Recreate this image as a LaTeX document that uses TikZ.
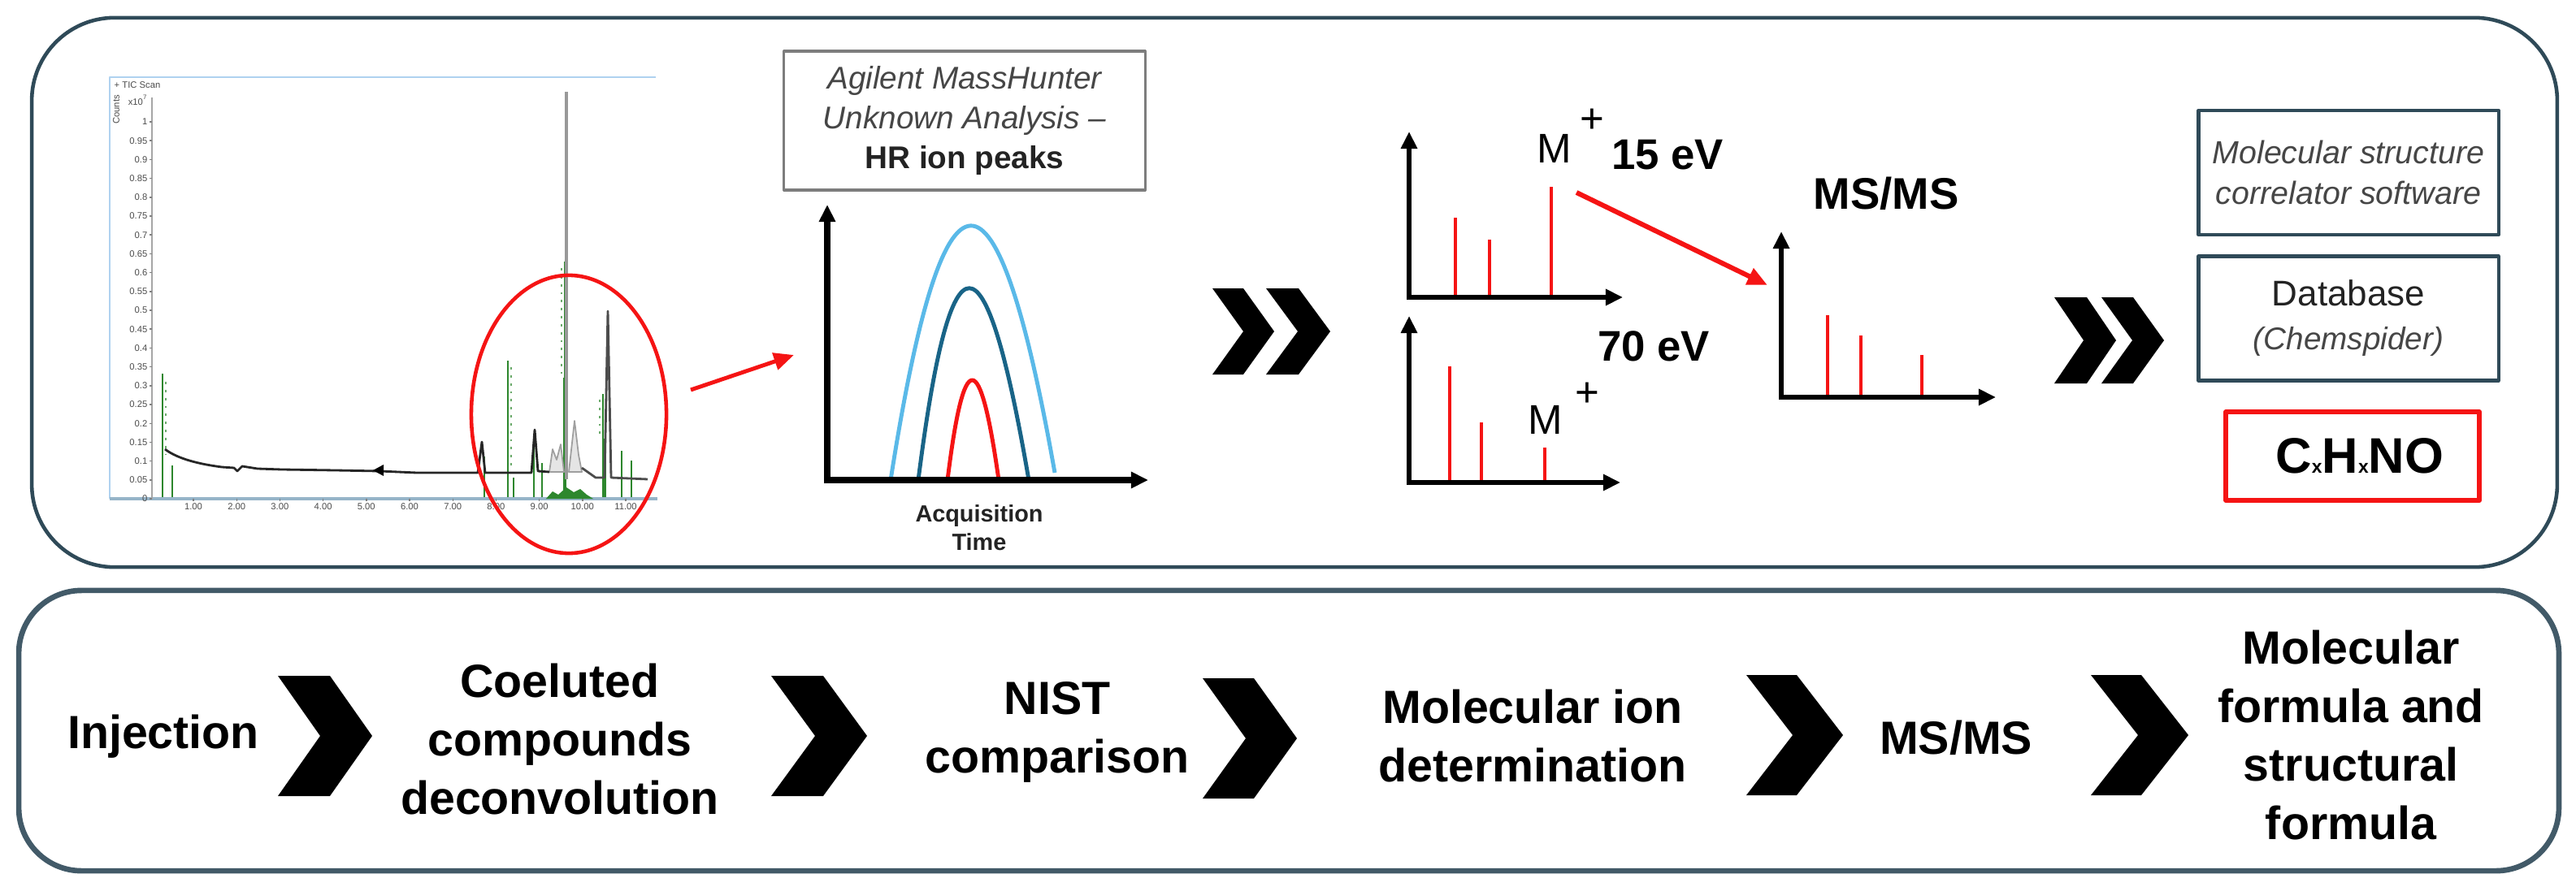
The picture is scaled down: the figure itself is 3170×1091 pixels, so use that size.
\documentclass[tikz,border=0pt]{standalone}
\usepackage{fontspec}
\setmainfont{Liberation Sans}
\usetikzlibrary{arrows.meta,shapes.geometric}
\definecolor{slate}{RGB}{47,74,88}
\definecolor{slatelt}{RGB}{66,90,104}
\definecolor{boxgray}{RGB}{125,125,125}
\definecolor{peaklight}{RGB}{90,185,232}
\definecolor{peakdark}{RGB}{25,100,135}
\definecolor{redc}{RGB}{245,20,20}
\definecolor{chromgreen}{RGB}{45,135,45}
\definecolor{framebl}{RGB}{175,210,240}
\definecolor{axisbl}{RGB}{150,180,200}
\definecolor{darktext}{RGB}{35,35,35}
\definecolor{softtext}{RGB}{70,70,70}
\newcommand\mychev[5]{\fill[black] (#1,#2-#5) -- (#1+#3,#2-#5) -- (#1+#3+#4,#2) -- (#1+#3,#2+#5) -- (#1,#2+#5) -- (#1+#4,#2) -- cycle;}
\begin{document}
\begin{tikzpicture}[x=0.01cm,y=-0.01cm,line join=round,
  bigbox/.style={draw=slate,line width=1.3pt,inner sep=0pt},
  steptext/.style={font=\fontsize{16.3}{20.5}\selectfont\bfseries,align=center,inner sep=0pt,text=black},
  axisarrow/.style={{Triangle[width=5.5pt,length=6pt]}-{Triangle[width=5.5pt,length=6pt]},line width=1.7pt,line join=miter},
  bar/.style={draw=redc,line width=1.4pt},
  redarrow/.style={draw=redc,-{Triangle[width=6pt,length=7pt]},line width=1.7pt},
  rbox/.style={draw=slate,line width=1.2pt,inner sep=0pt,minimum width=3.69cm,minimum height=1.53cm,align=center},
  lbl/.style={inner sep=0pt},
  ticklbl/.style={font=\fontsize{3.2}{4}\selectfont,text=gray!60!black,inner sep=0pt},
  cgreen/.style={draw=chromgreen,line width=0.5pt}]
\useasboundingbox (0,0) rectangle (3170,1091);
\fill[white] (0,0) rectangle (3170,1091);

% ---------- frames ----------
\node[bigbox,rounded corners=29pt,minimum width=31.06cm,minimum height=6.76cm] (topbox) at (1593,360) {};
\node[bigbox,draw=slatelt,line width=1.9pt,rounded corners=22pt,minimum width=31.24cm,minimum height=3.45cm] (botbox) at (1586,899.5) {};

% ---------- chromatogram ----------
\draw[framebl,line width=0.8pt] (807,95) -- (135,95) -- (135,614);
\draw[axisbl,line width=1.1pt] (135,614) -- (809,614);
\draw[gray!70,line width=0.6pt] (187,120) -- (187,614);
\node[ticklbl,anchor=west] (ctitle) at (140,105) {+ TIC Scan};
\node[ticklbl,rotate=90] (ylab) at (143,135) {Counts};
\node[ticklbl] (yexp) at (170,123) {x10\textsuperscript{7}};
\foreach \v [count=\i from 0] in {1,0.95,0.9,0.85,0.8,0.75,0.7,0.65,0.6,0.55,0.5,0.45,0.4,0.35,0.3,0.25,0.2,0.15,0.1,0.05,0} {
  \node[ticklbl,anchor=east] (yl\i) at (182,150+23.2*\i) {\v};
  \draw[gray,line width=0.4pt] (184,150+23.2*\i) -- (187,150+23.2*\i);
}
\foreach \v [count=\i from 0] in {1.00,2.00,3.00,4.00,5.00,6.00,7.00,8.00,9.00,10.00,11.00} {
  \node[ticklbl] (xl\i) at (238+53.2*\i,624) {\v};
  \draw[gray,line width=0.4pt] (238+53.2*\i,614) -- (238+53.2*\i,617);
}
% green peaks
\draw[cgreen] (200,612) -- (200,460);
\draw[chromgreen!70,dotted,line width=0.8pt] (204,470) -- (204,560);
\draw[cgreen] (212,612) -- (212,573);
\draw[cgreen] (596,612) -- (596,562);
\draw[cgreen] (625,612) -- (625,444);
\draw[chromgreen!70,dotted,line width=0.8pt] (629,452) -- (629,580);
\draw[cgreen] (632,612) -- (632,588);
\draw[cgreen] (657,612) -- (657,545);
\draw[cgreen] (667,612) -- (667,570);
\draw[cgreen] (695,612) -- (695,322);
\draw[chromgreen!70,dotted,line width=0.8pt] (691,330) -- (691,460);
\draw[cgreen,line width=1.4pt] (695,612) -- (695,465);
\draw[cgreen] (742,612) -- (742,485);
\draw[chromgreen!70,dotted,line width=0.8pt] (738,492) -- (738,540);
\draw[cgreen,line width=1.2pt] (744,612) -- (744,540);
\draw[cgreen] (765,612) -- (765,555);
\draw[cgreen] (777,612) -- (777,567);
\fill[chromgreen] (672,614) -- (680,605) -- (687,609) -- (697,600) -- (706,606) -- (714,602) -- (722,609) -- (730,614) -- cycle;
% gray / black trace
\draw[gray!75,fill=gray!20,line width=0.5pt] (676,581) -- (680,553) -- (685,566) -- (690,547) -- (694,581) -- cycle;
\draw[gray!75,fill=gray!20,line width=0.5pt] (700,581) -- (707,518) -- (712,560) -- (716,581) -- cycle;
\draw[black!85,line width=0.8pt] (203,553) .. controls (215,562) and (235,570) .. (273,575) -- (288,576) -- (292,580) -- (298,574) -- (317,577) -- (347,578) -- (413,579) -- (467,580) -- (513,582) -- (588,582) -- (593,544) -- (597,582) -- (654,582) -- (658,529) -- (662,580) -- (676,581);
\draw[black!70,line width=0.8pt] (716,576) -- (733,588) -- (744,588) -- (748,383) -- (752,588) -- (797,590);
\draw[gray!80,line width=0.9pt] (697,590) -- (697,113);
\fill[black] (459,579) -- (472,572) -- (472,586) -- cycle;
\node[ellipse,draw=redc,line width=1.3pt,minimum width=2.4cm,minimum height=3.42cm,inner sep=0pt] (circ) at (700,510) {};
\coordinate (ra1) at (850,480);
\coordinate (ra2) at (977,437);
\draw[redarrow,line width=1.4pt] (ra1) -- (ra2);

% ---------- deconvolution peaks ----------
\node[draw=boxgray,line width=0.9pt,minimum width=4.44cm,minimum height=1.71cm,inner sep=0pt,align=center,font=\fontsize{11}{14}\selectfont,text=darktext] (agil) at (1187,148.5) {\textit{\color{softtext}Agilent MassHunter}\\\textit{\color{softtext}Unknown Analysis –}\\\textbf{HR ion peaks}};
\draw[peaklight,line width=1.4pt] (1096,591) .. controls (1161,175) and (1226,175) .. (1298,582);
\draw[peakdark,line width=1.4pt] (1130,591) .. controls (1170,276) and (1212,276) .. (1266,591);
\draw[redc,line width=1.4pt] (1166,591) .. controls (1186,427) and (1206,427) .. (1229,591);
\draw[axisarrow,line width=2pt] (1018,252) -- (1018,591) -- (1413,591);
\node[font=\fontsize{8.2}{10}\selectfont\bfseries,align=center,text=darktext,inner sep=0pt] (acq) at (1205,650) {Acquisition\\Time};

\mychev{1492}{408}{38}{38}{53}
\mychev{1558}{408}{40}{39}{53}

% ---------- spectra ----------
\draw[bar] (1791,366) -- (1791,268);
\draw[bar] (1833,366) -- (1833,295);
\draw[bar] (1909,366) -- (1909,230);
\draw[axisarrow] (1734,162) -- (1734,366) -- (1997,366);
\draw[bar] (1784,594) -- (1784,451);
\draw[bar] (1823,594) -- (1823,520);
\draw[bar] (1901,594) -- (1901,551);
\draw[axisarrow] (1734,389) -- (1734,594) -- (1994,594);
\draw[bar] (2249,489) -- (2249,388);
\draw[bar] (2290,489) -- (2290,413);
\draw[bar] (2365,489) -- (2365,437);
\draw[axisarrow] (2192,285) -- (2192,489) -- (2456,489);

\node[lbl,font=\fontsize{14.5}{17}\selectfont] (m15) at (1913,183) {M};
\node[lbl,font=\fontsize{14.5}{17}\selectfont] (p15) at (1959,149) {+};
\node[lbl,font=\fontsize{15}{18}\selectfont\bfseries] (ev15) at (2052,191) {15 eV};
\node[lbl,font=\fontsize{15}{18}\selectfont\bfseries] (ev70) at (2035,426) {70 eV};
\node[lbl,font=\fontsize{14.5}{17}\selectfont] (m70) at (1902,517) {M};
\node[lbl,font=\fontsize{14.5}{17}\selectfont] (p70) at (1953,486) {+};
\node[lbl,font=\fontsize{15.5}{18}\selectfont\bfseries] (msmslab) at (2321,238) {MS/MS};
\coordinate (da) at (1940,237);
\coordinate (db) at (2175,351);
\draw[redarrow] (da) -- (db);

\mychev{2528}{419}{40}{36}{53}
\mychev{2586}{419}{39}{38}{53}

% ---------- right boxes ----------
\node[rbox,font=\fontsize{11.2}{14.2}\selectfont\itshape,text=softtext] (corr) at (2890,212.5) {Molecular structure\\correlator software};
\node[rbox,font=\fontsize{12.5}{15.4}\selectfont,text=darktext] (dbase) at (2890,392) {Database\\{\fontsize{11}{15.4}\selectfont\itshape\color{softtext}(Chemspider)}};
\node[draw=redc,line width=1.6pt,minimum width=3.12cm,minimum height=1.09cm,inner sep=0pt,font=\fontsize{17.5}{20}\selectfont\bfseries] (formula) at (2895,561.5) {\hspace{5pt}C{\fontsize{6.5}{7}\selectfont x}H{\fontsize{6.5}{7}\selectfont x}NO};

% ---------- workflow row ----------
\node[steptext] (inj) at (201,907) {Injection};
\node[steptext] (coel) at (689,910) {Coeluted\\compounds\\deconvolution};
\node[steptext] (nist) at (1301,901) {NIST\\comparison};
\node[steptext] (molion) at (1886,906) {Molecular ion\\determination};
\node[steptext] (msmsstep) at (2407,908) {MS/MS};
\node[steptext] (form) at (2893,905) {Molecular\\formula and\\structural\\formula};
\mychev{342}{906}{64}{52}{74}
\mychev{949}{906}{64}{54}{74}
\mychev{1480}{909}{63}{53}{74}
\mychev{2149}{905}{62}{57}{74}
\mychev{2573}{905}{62}{58}{74}
\end{tikzpicture}
\end{document}
